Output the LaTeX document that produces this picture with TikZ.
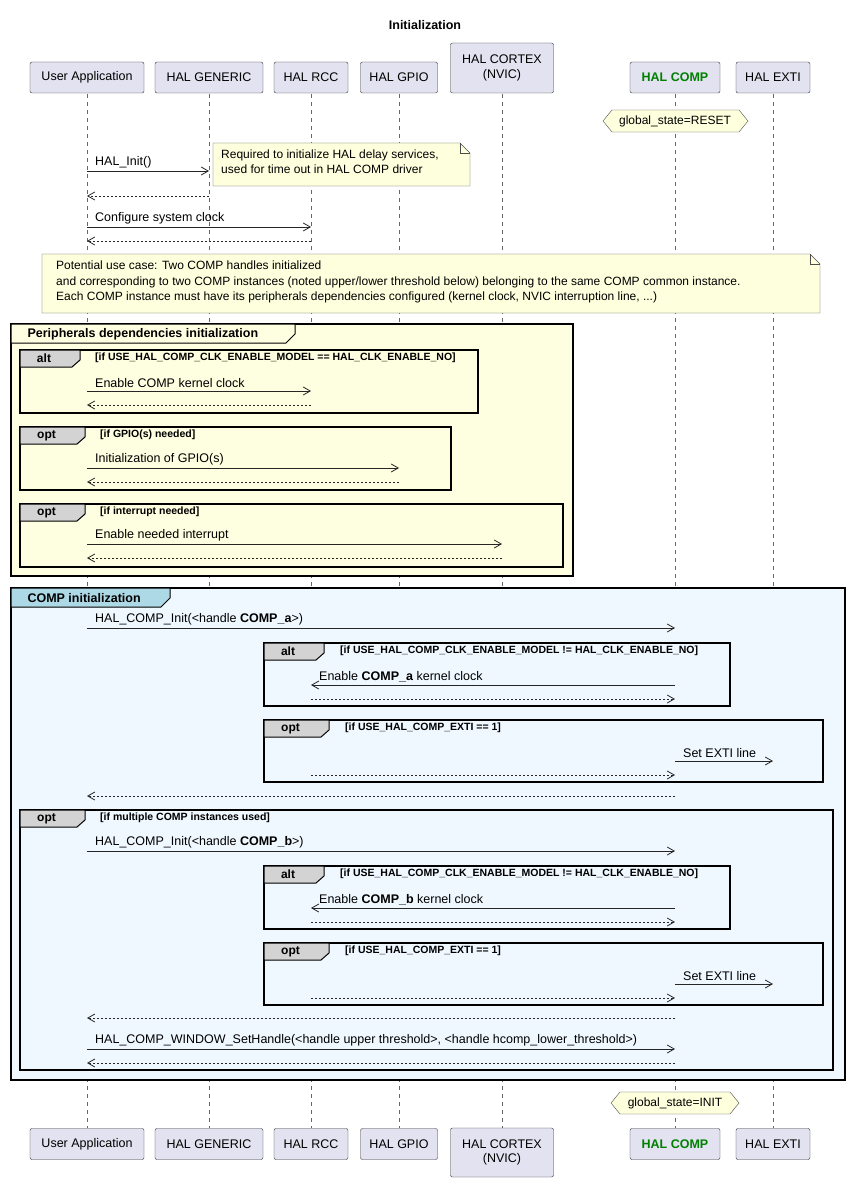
\documentclass[tikz,border=0pt]{standalone}
\usepackage{fontspec}
\setmainfont{Liberation Sans}
\usetikzlibrary{arrows.meta}
\definecolor{partfill}{HTML}{E2E2F0}
\definecolor{notefill}{HTML}{FEFFDD}
\definecolor{grpyellow}{HTML}{FEFEE0}
\definecolor{grpblue}{HTML}{F0F8FF}
\definecolor{tabblue}{HTML}{ADD8E6}
\definecolor{tabgray}{HTML}{D3D3D3}
\definecolor{compgreen}{HTML}{008000}
\tikzset{
  part/.style={draw=black!80, fill=partfill, rounded corners=2pt, minimum height=31pt, align=center, font=\fontsize{12.5}{14.5}\selectfont, inner sep=0pt},
  life/.style={draw=black!60, dash pattern=on 4pt off 4pt, line width=0.5pt},
  call/.style={-{Straight Barb[length=7pt,width=8pt]}, line width=0.8pt, black!85},
  back/.style={call, dash pattern=on 2pt off 2pt},
  lbl/.style={anchor=south west, inner sep=1pt, font=\fontsize{12.5}{14.5}\selectfont},
  cond/.style={anchor=west, inner sep=0pt, font=\bfseries\fontsize{10.5}{12}\selectfont},
  frame/.style={draw=black, line width=1.2pt},
}
\newcommand{\px}[1]{\csname lx@#1\endcsname}
% messages: y, from, to, label
\newcommand{\msg}[4]{\draw[call] (#2 |- 0,#1) -- (#3 |- 0,#1);
  \pgfmathsetmacro\mx{min(\px{#2},\px{#3})+7}
  \node[lbl] at (\mx,#1-2) {#4};}
\newcommand{\ret}[3]{\draw[back] (#2 |- 0,#1) -- (#3 |- 0,#1);}
% fragment: x1,y1,x2,y2,tabwidth,keyword,condition,condx
\newcommand{\frag}[8]{\draw[frame] (#1,#2) rectangle (#3,#4);
  \draw[black, line width=1pt, fill=tabgray] (#1,#2) -- (#1+#5,#2) -- (#1+#5,#2+10) -- (#1+#5-8,#2+17) -- (#1,#2+17) -- cycle;
  \node[font=\bfseries\fontsize{12}{14}\selectfont] at (#1+#5/2-6,#2+8.5) {#6};
  \node[cond] at (#8,#2+8) {#7};}
\begin{document}
\begin{tikzpicture}[x=1pt,y=-1pt]
  \useasboundingbox (0,0) rectangle (848,1182);
  \fill[white] (0,0) rectangle (848,1182);
  \node[font=\bfseries\fontsize{12.5}{14.5}\selectfont] (title) at (425,25) {Initialization};
  % lifelines
  \foreach \n/\x in {ua/87, gen/209, rcc/311, gpio/399, nvic/502, comp/675, exti/773}{
    \coordinate (\n) at (\x,0);
    \expandafter\xdef\csname lx@\n\endcsname{\x}
    \draw[life] (\x,94) -- (\x,1128);
  }
  % groups
  \fill[grpyellow] (11,324) rectangle (573,576);
  \draw[frame] (11,324) rectangle (573,576);
  \draw[black, line width=1pt, fill=grpyellow] (11,324) -- (295,324) -- (295,334) -- (286,343) -- (11,343) -- cycle;
  \node[anchor=west, font=\bfseries\fontsize{12.5}{14.5}\selectfont] at (24,334) {Peripherals dependencies initialization};
  \fill[grpblue] (11,588) rectangle (845,1080);
  \draw[frame] (11,588) rectangle (845,1080);
  \draw[black, line width=1pt, fill=tabblue] (11,588) -- (170,588) -- (170,598) -- (161,607) -- (11,607) -- cycle;
  \node[anchor=west, font=\bfseries\fontsize{12.5}{14.5}\selectfont] at (24,598) {COMP initialization};
  % participants
  \foreach \n/\x/\w/\t in {ua/87/114/User Application, gen/209/108/HAL GENERIC, rcc/311/74/HAL RCC, gpio/399/77/HAL GPIO, exti/773/74/HAL EXTI}{
    \node[part, minimum width=\w pt] (\n top) at (\x,77.5) {\t};
    \node[part, minimum width=\w pt] (\n bot) at (\x,1144) {\t};
  }
  \node[part, minimum width=103pt, minimum height=50pt] (nvic top) at (502,68) {HAL CORTEX\\(NVIC)};
  \node[part, minimum width=103pt, minimum height=49pt] (nvic bot) at (502,1152.5) {HAL CORTEX\\(NVIC)};
  \node[part, minimum width=90pt, font=\bfseries\fontsize{12.5}{14.5}\selectfont, text=compgreen] (comp top) at (675,77.5) {HAL COMP};
  \node[part, minimum width=90pt, font=\bfseries\fontsize{12.5}{14.5}\selectfont, text=compgreen] (comp bot) at (675,1144) {HAL COMP};
  % states
  \draw[black!70, fill=notefill] (603,121) -- (612,110) -- (739,110) -- (748,121) -- (739,132) -- (612,132) -- cycle;
  \node[font=\fontsize{12}{14}\selectfont] (reset) at (675,121) {global\_state=RESET};
  \draw[black!70, fill=notefill] (611,1103) -- (620,1092) -- (730,1092) -- (739,1103) -- (730,1114) -- (620,1114) -- cycle;
  \node[font=\fontsize{12}{14}\selectfont] (init) at (675,1103) {global\_state=INIT};
  % notes
  \draw[black!70, fill=notefill] (213,143) -- (460,143) -- (470,153) -- (470,186) -- (213,186) -- cycle;
  \draw[black!70] (460,143) -- (460,153) -- (470,153);
  \node[anchor=north west, align=left, inner sep=0pt, font=\fontsize{12}{15}\selectfont] (note1) at (221,150) {Required to initialize HAL delay services,\\used for time out in HAL COMP driver};
  \draw[black!70, fill=notefill] (42,254) -- (810,254) -- (820,264) -- (820,313) -- (42,313) -- cycle;
  \draw[black!70] (810,254) -- (810,264) -- (820,264);
  \node[anchor=north west, align=left, inner sep=0pt, font=\fontsize{12}{15.5}\selectfont] (note2) at (56,261) {Potential use case: Two COMP handles initialized\\and corresponding to two COMP instances (noted upper/lower threshold below) belonging to the same COMP common instance.\\Each COMP instance must have its peripherals dependencies configured (kernel clock, NVIC interruption line, ...)};
  % messages
  \msg{171}{ua}{gen}{HAL\_Init()}
  \ret{196}{gen}{ua}
  \msg{227}{ua}{rcc}{Configure system clock}
  \ret{241}{rcc}{ua}
  \frag{20}{350}{478}{413}{60}{alt}{[if USE\_HAL\_COMP\_CLK\_ENABLE\_MODEL == HAL\_CLK\_ENABLE\_NO]}{95}
  \msg{391}{ua}{rcc}{Enable COMP kernel clock}
  \ret{405}{rcc}{ua}
  \frag{20}{427}{451}{490}{65}{opt}{[if GPIO(s) needed]}{100}
  \msg{468}{ua}{gpio}{Initialization of GPIO(s)}
  \ret{482}{gpio}{ua}
  \frag{20}{504}{563}{567}{65}{opt}{[if interrupt needed]}{100}
  \msg{544}{ua}{nvic}{Enable needed interrupt}
  \ret{558}{nvic}{ua}
  \msg{628}{ua}{comp}{HAL\_COMP\_Init(<handle \textbf{COMP\_a}>)}
  \frag{264}{643}{730}{706}{60}{alt}{[if USE\_HAL\_COMP\_CLK\_ENABLE\_MODEL != HAL\_CLK\_ENABLE\_NO]}{340}
  \msg{685}{comp}{rcc}{Enable \textbf{COMP\_a} kernel clock}
  \ret{699}{rcc}{comp}
  \frag{264}{720}{823}{782}{65}{opt}{[if USE\_HAL\_COMP\_EXTI == 1]}{345}
  \msg{761}{comp}{exti}{Set EXTI line}
  \ret{775}{rcc}{comp}
  \ret{796}{comp}{ua}
  \frag{20}{810}{833}{1070}{65}{opt}{[if multiple COMP instances used]}{100}
  \msg{851}{ua}{comp}{HAL\_COMP\_Init(<handle \textbf{COMP\_b}>)}
  \frag{264}{866}{730}{929}{60}{alt}{[if USE\_HAL\_COMP\_CLK\_ENABLE\_MODEL != HAL\_CLK\_ENABLE\_NO]}{340}
  \msg{908}{comp}{rcc}{Enable \textbf{COMP\_b} kernel clock}
  \ret{922}{rcc}{comp}
  \frag{264}{943}{823}{1005}{65}{opt}{[if USE\_HAL\_COMP\_EXTI == 1]}{345}
  \msg{984}{comp}{exti}{Set EXTI line}
  \ret{998}{rcc}{comp}
  \ret{1018}{comp}{ua}
  \msg{1049}{ua}{comp}{HAL\_COMP\_WINDOW\_SetHandle(<handle upper threshold>, <handle hcomp\_lower\_threshold>)}
  \ret{1063}{comp}{ua}
\end{tikzpicture}
\end{document}
